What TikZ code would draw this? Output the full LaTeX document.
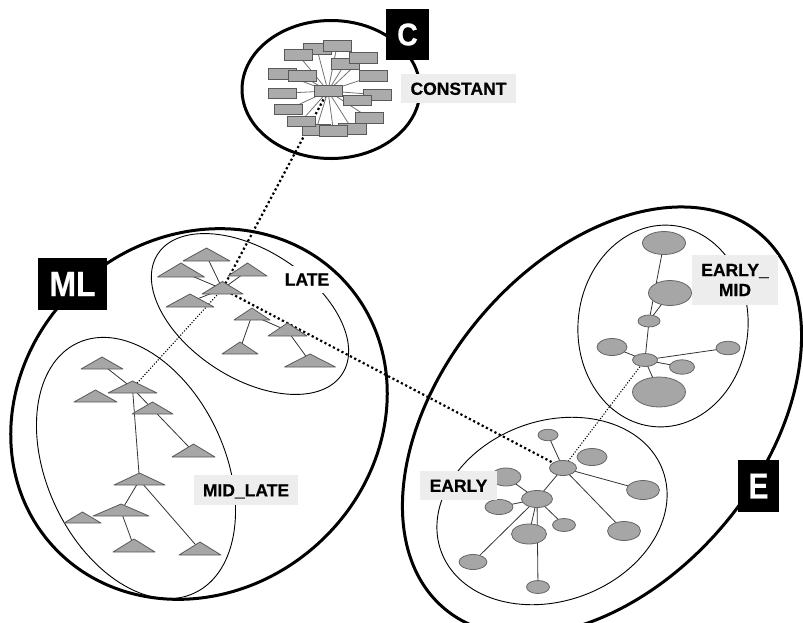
\documentclass[tikz,border=0pt]{standalone}
\usepackage{fontspec}
\usepackage{graphicx}
\setmainfont{Liberation Sans}
\newfontfamily\heavy[BoldFeatures={FakeBold=0.6}]{Liberation Sans}
\usetikzlibrary{shapes.geometric}
\pgfdeclarelayer{bg}
\pgfsetlayers{bg,main}
\tikzset{
 bigell/.style={line width=3pt},
 innerell/.style={line width=0.9pt},
 rnode/.style={draw=black!65, fill=black!33, line width=0.8pt, minimum width=28pt, minimum height=10.5pt, inner sep=0pt},
 cnode/.style={ellipse, draw=black!60, fill=black!35, line width=0.8pt, inner sep=0pt},
 trishape/.style={draw=black!65, fill=black!35, line width=0.8pt, line join=round},
 tnode/.style={inner sep=0pt, minimum size=0pt},
 link/.style={draw=black!80, line width=0.8pt},
 clink/.style={draw=black!55, line width=0.8pt},
 thickdot/.style={line width=2.2pt, dash pattern=on 2.2pt off 2.6pt},
 thindot/.style={line width=1.1pt, dash pattern=on 1.1pt off 1.7pt},
 labbase/.style={fill=black!7, font=\heavy\bfseries\fontsize{17.5}{20}\selectfont, inner sep=0pt},
 lab/.style={labbase, text height=12.6pt, text depth=0pt},
 tag/.style={fill=black, text=white, inner sep=0pt},
}
\newcommand{\tri}[5]{%
  \node[tnode] (#1) at (#2,#3-#5*0.4) {};
  \path[trishape] (#2-#4,#3) -- (#2,#3-#5) -- (#2+#4,#3) -- cycle;
}
\begin{document}
\begin{tikzpicture}[x=1pt,y=-1pt]
\useasboundingbox (0,0) rectangle (803,622);
\clip (0,0) rectangle (803,622);

% inner cluster ellipses
\draw[innerell, rotate around={-33:(250,314)}] (250,314) ellipse [x radius=110, y radius=64];
\draw[innerell, rotate around={25:(136,468)}] (136,468) ellipse [x radius=89, y radius=138];
\draw[innerell, rotate around={-5:(663,326)}] (663,326) ellipse [x radius=85, y radius=101];
\draw[innerell, rotate around={20:(552,511)}] (552,511) ellipse [x radius=118, y radius=90];

\node[labbase, fill=white, inner xsep=1pt, inner ysep=7pt] (late) at (307,279.5) {LATE};

% big ellipses
\draw[bigell] (331,89.5) ellipse [x radius=89, y radius=69];
\draw[bigell, rotate around={41:(199,414)}] (199,414) ellipse [x radius=197, y radius=176];
\draw[bigell, rotate around={50:(602,421)}] (602,421) ellipse [x radius=245, y radius=160];

% CONSTANT cluster
\node[rnode] (c2) at (317,49) {};
\node[rnode] (c3) at (337,46) {};
\node[rnode] (c1) at (298,54.7) {};
\node[rnode] (c4) at (345,63.7) {};
\node[rnode] (c5) at (363,58) {};
\node[rnode] (c6) at (282,73.7) {};
\node[rnode] (c7) at (302.5,76) {};
\node[rnode] (c8) at (373,76) {};
\node[rnode] (c9) at (282,93.3) {};
\node[rnode] (c10) at (377.5,94.7) {};
\node[rnode] (c11) at (357,100.5) {};
\node[rnode] (c12) at (288,109.5) {};
\node[rnode] (c13) at (369,117.7) {};
\node[rnode] (c15) at (316,130) {};
\node[rnode] (c17) at (352,129) {};
\node[rnode] (c16) at (333.5,131) {};
\node[rnode] (c14) at (301,121.3) {};
\node[rnode] (c0) at (328,91) {};

% LATE triangles
\tri{l1}{206.5}{261}{23.5}{13}
\tri{l2}{181}{277}{23.5}{14}
\tri{l3}{247.5}{276}{19.5}{13}
\tri{l4}{222.5}{294}{20.5}{12.5}
\tri{l5}{190}{307}{24}{13}
\tri{l6}{252}{320}{18}{12}
\tri{l7}{287.5}{336}{19.5}{13}
\tri{l8}{240}{354}{18}{12}
\tri{l9}{310}{367}{25.5}{13}

% MID_LATE triangles
\tri{m1}{102}{369}{21}{12}
\tri{m3}{95.5}{402}{21.5}{12}
\tri{m2}{132.5}{393}{24.5}{12}
\tri{m4}{152.5}{414}{20.5}{12}
\tri{m5}{193.5}{457}{21.5}{13}
\tri{m6}{139.5}{485}{25.5}{12}
\tri{m8}{82.5}{523}{18.5}{11}
\tri{m7}{121}{516}{28}{12}
\tri{m9}{134}{552}{21}{13}
\tri{m10}{200}{555}{21}{13}

% EARLY_MID circles
\node[cnode, minimum width=43pt, minimum height=23pt] (em1) at (664,243) {};
\node[cnode, minimum width=43pt, minimum height=25pt] (em2) at (670,293) {};
\node[cnode, minimum width=22pt, minimum height=12pt] (em3) at (649,321) {};
\node[cnode, minimum width=30pt, minimum height=17pt] (em4) at (612,347) {};
\node[cnode, minimum width=25pt, minimum height=13pt] (em5) at (645,360) {};
\node[cnode, minimum width=24pt, minimum height=13.5pt] (em6) at (728,348) {};
\node[cnode, minimum width=25pt, minimum height=14.5pt] (em7) at (682,367) {};
\node[cnode, minimum width=53pt, minimum height=30pt] (em8) at (659,392) {};

% EARLY circles
\node[cnode, minimum width=20pt, minimum height=11.5pt] (e1) at (548,435) {};
\node[cnode, minimum width=30pt, minimum height=17pt] (e2) at (592,457) {};
\node[cnode, minimum width=27pt, minimum height=15pt] (e3) at (563,468) {};
\node[cnode, minimum width=30pt, minimum height=18pt] (e4) at (506,477) {};
\node[cnode, minimum width=33pt, minimum height=19pt] (e5) at (643,490) {};
\node[cnode, minimum width=31pt, minimum height=17pt] (e6) at (537,499) {};
\node[cnode, minimum width=28pt, minimum height=15pt] (e7) at (499,507) {};
\node[cnode, minimum width=23pt, minimum height=13pt] (e8) at (564,525) {};
\node[cnode, minimum width=35pt, minimum height=20pt] (e9) at (529,534) {};
\node[cnode, minimum width=33pt, minimum height=19pt] (e10) at (624,531) {};
\node[cnode, minimum width=28pt, minimum height=15pt] (e11) at (473,562) {};
\node[cnode, minimum width=23pt, minimum height=13pt] (e12) at (538,587) {};

% labels
\node[lab, minimum width=115pt, minimum height=29pt] (constant) at (458.5,88.5) {CONSTANT};
\node[lab, minimum width=104pt, minimum height=30pt] (midlate) at (246,490) {MID\_LATE};
\node[lab, minimum width=77pt, minimum height=29pt] (early) at (458.5,485.5) {EARLY};
\node[labbase, align=center, minimum width=86pt, minimum height=50pt] (earlymid) at (735,280) {EARLY\_\\MID};

% tags
\node[tag, minimum width=43pt, minimum height=51pt, font=\heavy\bfseries\fontsize{30}{30}\selectfont] (tagC) at (407.5,34.5) {\scalebox{0.95}[1.05]{C}};
\node[tag, minimum width=69pt, minimum height=52pt, font=\heavy\bfseries\fontsize{32}{32}\selectfont] (tagML) at (72.5,284) {\scalebox{1}[1.1]{ML}};
\node[tag, minimum width=41pt, minimum height=52pt, font=\heavy\bfseries\fontsize{30}{30}\selectfont] (tagE) at (758.5,486) {\scalebox{1}[1.2]{E}};

% connectors behind the shapes
\begin{pgfonlayer}{bg}
\foreach \r in {c1,c2,c3,c4,c5,c6,c7,c8,c9,c10,c11,c12,c13,c14,c15,c16,c17}
  \draw[clink] (c0.center) -- (\r.center);
\foreach \a/\b in {l1/l4,l2/l4,l3/l4,l5/l4,l6/l8,l6/l7,l7/l9,
                   m1/m2,m2/m5,m2/m6,m6/m7,m6/m10,m7/m9,
                   em1/em3,em2/em3,em3/em5,em4/em5,em5/em6,em5/em7,em5/em8,
                   e1/e3,e3/e5,e3/e10,e3/e6,e4/e6,e7/e6,e6/e8,e6/e9,e6/e11,e6/e12}
  \draw[link] (\a.center) -- (\b.center);
\draw[thickdot] (c0.center) -- (l4.center);
\draw[thickdot] (l4.center) -- (e3.center);
\draw[thindot] (l4.center) -- (m2.center);
\draw[thindot] (e3.center) -- (em5.center);
\end{pgfonlayer}
\end{tikzpicture}
\end{document}
